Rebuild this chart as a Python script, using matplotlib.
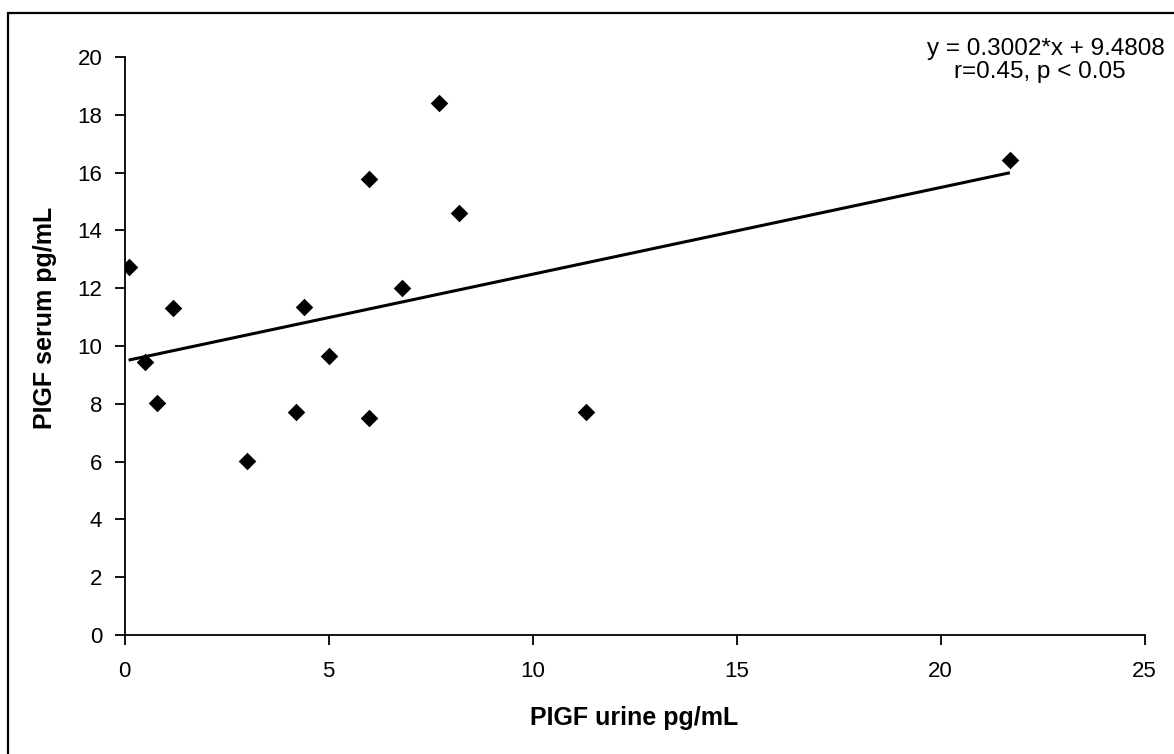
import numpy as np
import matplotlib.pyplot as plt
from matplotlib.patches import Rectangle

# data
urine = [0.1, 0.5, 0.8, 1.2, 3.0, 4.2, 4.4, 5.0, 6.0, 6.0, 6.8, 7.7, 8.2, 11.3, 21.7]
serum = [12.73, 9.45, 8.03, 11.33, 6.02, 7.7, 11.35, 9.65, 7.5, 15.78, 12.0, 18.42, 14.6, 7.7, 16.43]
slope = 0.3002
intercept = 9.4808

plt.rcParams['font.family'] = ['Liberation Sans', 'DejaVu Sans']

fig = plt.figure(figsize=(11.74, 7.54), dpi=100)
ax = fig.add_axes([124.5 / 1174, 1 - 635 / 754, 1020 / 1174, 578 / 754])

ax.scatter(urine, serum, marker='D', s=80, color='black', zorder=3, linewidths=0)

xs = np.array([min(urine), max(urine)])
ax.plot(xs, slope * xs + intercept, color='black', lw=2.2, solid_capstyle='butt')

ax.set_xlim(0, 25)
ax.set_ylim(0, 20)
ax.set_xticks(np.arange(0, 26, 5))
ax.set_yticks(np.arange(0, 21, 2))
ax.tick_params(direction='out', length=7, width=1.3, labelsize=16)
ax.tick_params(axis='y', pad=9)
ax.tick_params(axis='x', pad=12)
for s in ['top', 'right']:
    ax.spines[s].set_visible(False)
for s in ['left', 'bottom']:
    ax.spines[s].set_linewidth(1.3)

ax.set_xlabel('PIGF urine pg/mL', fontsize=18, fontweight='bold')
ax.set_ylabel('PIGF serum pg/mL', fontsize=18, fontweight='bold')
ax.xaxis.set_label_coords(634 / 1174, 1 - 718 / 754, transform=fig.transFigure)
ax.yaxis.set_label_coords(45 / 1174, 1 - 318 / 754, transform=fig.transFigure)
ax.xaxis.label.set_va('center')
ax.yaxis.label.set_va('center')

fig.text(1046 / 1174, 1 - 49 / 754, 'y = 0.3002*x + 9.4808',
         ha='center', va='center', fontsize=17.5)
fig.text(1040 / 1174, 1 - 72 / 754, 'r=0.45, p < 0.05',
         ha='center', va='center', fontsize=17.5)

# outer frame
fig.patches.append(Rectangle((8 / 1174, -0.05), 1.1, 1 - 13 / 754 + 0.05,
                             transform=fig.transFigure, fill=False,
                             edgecolor='black', lw=1.6))

fig.savefig('out.png', dpi=100)
